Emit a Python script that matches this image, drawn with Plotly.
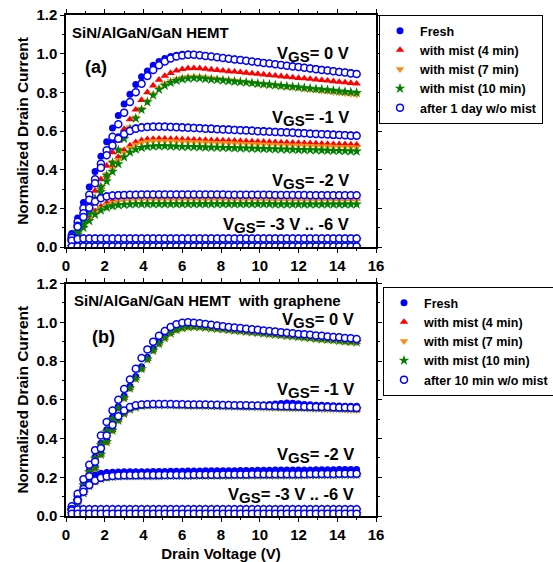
import plotly.graph_objects as go

# Drain voltage sampling (V)
X = [0.3, 0.6, 0.9, 1.2, 1.5, 1.8, 2.1, 2.4, 2.7, 3.0,
     3.3, 3.6, 3.9, 4.2, 4.5, 4.8, 5.1, 5.4, 5.7, 6.0,
     6.3, 6.6, 6.9, 7.2, 7.5, 7.8, 8.1, 8.4, 8.7, 9.0,
     9.3, 9.6, 9.9, 10.2, 10.5, 10.8, 11.1, 11.4, 11.7, 12.0,
     12.3, 12.6, 12.9, 13.2, 13.5, 13.8, 14.1, 14.4, 14.7, 15.0]

SERIES_A = ["Fresh", "with mist (4 min)", "with mist (7 min)", "with mist (10 min)", "after 1 day w/o mist"]
SERIES_B = ["Fresh", "with mist (4 min)", "with mist (7 min)", "with mist (10 min)", "after 10 min w/o mist"]
VGS_VALUES = ["0 V", "-1 V", "-2 V", "-3 V .. -6 V"]

# ---------------- Panel (a) ----------------
A0_FRESH = [0.07, 0.15, 0.23, 0.31, 0.39, 0.47, 0.545, 0.615, 0.68, 0.74,
            0.79, 0.84, 0.88, 0.91, 0.94, 0.96, 0.975, 0.985, 0.992, 0.997,
            0.998, 0.996, 0.993, 0.989, 0.986, 0.982, 0.979, 0.975, 0.972, 0.968,
            0.965, 0.961, 0.958, 0.954, 0.951, 0.947, 0.944, 0.940, 0.937, 0.933,
            0.930, 0.926, 0.923, 0.919, 0.916, 0.912, 0.909, 0.905, 0.902, 0.898]
A0_AFTER = [0.06, 0.13, 0.20, 0.27, 0.35, 0.43, 0.50, 0.57, 0.635, 0.695,
            0.75, 0.80, 0.845, 0.885, 0.915, 0.94, 0.96, 0.975, 0.985, 0.991,
            0.994, 0.994, 0.992, 0.988, 0.985, 0.981, 0.977, 0.974, 0.970, 0.967,
            0.963, 0.959, 0.956, 0.952, 0.949, 0.945, 0.941, 0.938, 0.934, 0.931,
            0.927, 0.923, 0.920, 0.916, 0.913, 0.909, 0.905, 0.902, 0.898, 0.895]
A0_M4 = [0.04, 0.09, 0.15, 0.22, 0.29, 0.35, 0.42, 0.49, 0.55, 0.61,
         0.66, 0.71, 0.76, 0.80, 0.835, 0.865, 0.885, 0.90, 0.912, 0.92,
         0.924, 0.925, 0.924, 0.921, 0.918, 0.915, 0.912, 0.909, 0.907, 0.904,
         0.901, 0.898, 0.895, 0.892, 0.889, 0.886, 0.883, 0.880, 0.877, 0.874,
         0.872, 0.869, 0.866, 0.863, 0.860, 0.857, 0.854, 0.851, 0.848, 0.845]
A0_M7 = [0.035, 0.08, 0.135, 0.195, 0.255, 0.315, 0.375, 0.44, 0.505, 0.565,
         0.62, 0.67, 0.715, 0.755, 0.79, 0.82, 0.842, 0.858, 0.868, 0.876,
         0.88, 0.881, 0.880, 0.877, 0.873, 0.870, 0.866, 0.863, 0.860, 0.856,
         0.853, 0.849, 0.846, 0.842, 0.839, 0.836, 0.832, 0.829, 0.825, 0.822,
         0.819, 0.815, 0.812, 0.808, 0.805, 0.801, 0.798, 0.795, 0.791, 0.788]
A0_M10 = [0.035, 0.08, 0.13, 0.19, 0.25, 0.31, 0.37, 0.435, 0.50, 0.56,
          0.61, 0.665, 0.71, 0.75, 0.785, 0.815, 0.835, 0.85, 0.86, 0.868,
          0.872, 0.874, 0.873, 0.870, 0.867, 0.865, 0.862, 0.859, 0.856, 0.854,
          0.851, 0.848, 0.845, 0.842, 0.840, 0.837, 0.834, 0.831, 0.829, 0.826,
          0.823, 0.820, 0.817, 0.815, 0.812, 0.809, 0.806, 0.803, 0.801, 0.798]

A1_FRESH = [0.055, 0.12, 0.19, 0.265, 0.35, 0.43, 0.49, 0.54, 0.57, 0.593,
            0.607, 0.617, 0.622, 0.625, 0.626, 0.626, 0.626, 0.625, 0.624, 0.622,
            0.621, 0.619, 0.618, 0.616, 0.615, 0.613, 0.612, 0.611, 0.609, 0.608,
            0.606, 0.605, 0.603, 0.602, 0.600, 0.599, 0.597, 0.596, 0.595, 0.593,
            0.592, 0.590, 0.589, 0.587, 0.586, 0.584, 0.583, 0.582, 0.580, 0.579]
A1_AFTER = [0.05, 0.11, 0.175, 0.245, 0.33, 0.41, 0.475, 0.525, 0.56, 0.585,
            0.60, 0.612, 0.618, 0.621, 0.622, 0.622, 0.622, 0.621, 0.620, 0.618,
            0.617, 0.615, 0.614, 0.612, 0.611, 0.609, 0.608, 0.607, 0.605, 0.604,
            0.602, 0.601, 0.599, 0.598, 0.596, 0.595, 0.593, 0.592, 0.591, 0.589,
            0.588, 0.586, 0.585, 0.583, 0.582, 0.580, 0.579, 0.578, 0.576, 0.575]
A1_M4 = [0.035, 0.08, 0.13, 0.19, 0.25, 0.31, 0.37, 0.42, 0.465, 0.50,
         0.525, 0.542, 0.552, 0.557, 0.559, 0.560, 0.560, 0.559, 0.558, 0.557,
         0.556, 0.555, 0.554, 0.553, 0.552, 0.552, 0.551, 0.550, 0.549, 0.548,
         0.547, 0.546, 0.545, 0.544, 0.543, 0.542, 0.541, 0.540, 0.539, 0.538,
         0.537, 0.536, 0.535, 0.534, 0.533, 0.532, 0.531, 0.531, 0.530, 0.529]
A1_M7 = [0.033, 0.078, 0.125, 0.18, 0.24, 0.30, 0.355, 0.405, 0.45, 0.487,
         0.513, 0.53, 0.54, 0.545, 0.547, 0.548, 0.548, 0.547, 0.546, 0.545,
         0.544, 0.543, 0.542, 0.541, 0.540, 0.539, 0.538, 0.537, 0.536, 0.535,
         0.534, 0.533, 0.532, 0.531, 0.530, 0.529, 0.528, 0.527, 0.526, 0.525,
         0.524, 0.523, 0.522, 0.521, 0.520, 0.519, 0.518, 0.517, 0.516, 0.515]
A1_M10 = [0.03, 0.075, 0.12, 0.175, 0.23, 0.285, 0.34, 0.39, 0.43, 0.465,
          0.49, 0.505, 0.514, 0.519, 0.521, 0.522, 0.522, 0.521, 0.520, 0.519,
          0.519, 0.518, 0.517, 0.516, 0.515, 0.515, 0.514, 0.513, 0.512, 0.511,
          0.511, 0.510, 0.509, 0.508, 0.507, 0.506, 0.506, 0.505, 0.504, 0.503,
          0.502, 0.502, 0.501, 0.500, 0.499, 0.498, 0.498, 0.497, 0.496, 0.495]

A2_FRESH = [0.052, 0.112, 0.165, 0.212, 0.242, 0.257, 0.265, 0.269, 0.271, 0.272,
            0.272, 0.273, 0.273, 0.273, 0.273, 0.273, 0.273, 0.273, 0.273, 0.273,
            0.273, 0.273, 0.272, 0.272, 0.272, 0.272, 0.272, 0.272, 0.272, 0.272,
            0.272, 0.271, 0.271, 0.271, 0.271, 0.271, 0.271, 0.271, 0.271, 0.270,
            0.270, 0.270, 0.270, 0.270, 0.270, 0.270, 0.270, 0.269, 0.269, 0.269]
A2_AFTER = [0.048, 0.105, 0.155, 0.203, 0.235, 0.252, 0.261, 0.266, 0.268, 0.269,
            0.270, 0.270, 0.271, 0.271, 0.271, 0.271, 0.271, 0.271, 0.271, 0.271,
            0.271, 0.271, 0.271, 0.271, 0.271, 0.271, 0.271, 0.270, 0.270, 0.270,
            0.270, 0.270, 0.270, 0.270, 0.270, 0.269, 0.269, 0.269, 0.269, 0.269,
            0.269, 0.268, 0.268, 0.268, 0.268, 0.268, 0.268, 0.268, 0.268, 0.268]
A2_M4 = [0.03, 0.07, 0.11, 0.15, 0.185, 0.21, 0.228, 0.24, 0.247, 0.251,
         0.253, 0.254, 0.255, 0.255, 0.255, 0.255, 0.255, 0.255, 0.255, 0.255,
         0.255, 0.254, 0.254, 0.254, 0.254, 0.254, 0.254, 0.253, 0.253, 0.253,
         0.253, 0.253, 0.253, 0.252, 0.252, 0.252, 0.252, 0.252, 0.252, 0.252,
         0.251, 0.251, 0.251, 0.251, 0.251, 0.251, 0.250, 0.250, 0.250, 0.250]
A2_M7 = [0.03, 0.068, 0.105, 0.143, 0.177, 0.201, 0.218, 0.23, 0.237, 0.241,
         0.243, 0.244, 0.245, 0.245, 0.245, 0.245, 0.245, 0.245, 0.245, 0.245,
         0.245, 0.245, 0.245, 0.245, 0.245, 0.245, 0.245, 0.245, 0.244, 0.244,
         0.244, 0.244, 0.244, 0.244, 0.244, 0.244, 0.244, 0.244, 0.244, 0.244,
         0.243, 0.243, 0.243, 0.243, 0.243, 0.243, 0.243, 0.243, 0.243, 0.243]
A2_M10 = [0.028, 0.065, 0.10, 0.135, 0.168, 0.19, 0.204, 0.212, 0.217, 0.219,
          0.221, 0.222, 0.222, 0.222, 0.222, 0.222, 0.222, 0.222, 0.222, 0.222,
          0.222, 0.222, 0.222, 0.222, 0.222, 0.222, 0.222, 0.222, 0.222, 0.222,
          0.222, 0.222, 0.222, 0.222, 0.222, 0.221, 0.221, 0.221, 0.221, 0.221,
          0.221, 0.221, 0.221, 0.221, 0.221, 0.221, 0.221, 0.221, 0.221, 0.221]

A3_FRESH = [0.035, 0.044, 0.046, 0.046, 0.046, 0.046, 0.046, 0.046, 0.046, 0.046,
            0.046, 0.046, 0.046, 0.046, 0.046, 0.046, 0.046, 0.046, 0.046, 0.046,
            0.046, 0.046, 0.046, 0.046, 0.046, 0.046, 0.046, 0.046, 0.046, 0.046,
            0.046, 0.046, 0.046, 0.046, 0.046, 0.046, 0.046, 0.046, 0.046, 0.046,
            0.046, 0.046, 0.046, 0.046, 0.046, 0.046, 0.046, 0.046, 0.046, 0.046]
A3_AFTER = [0.033, 0.042, 0.044, 0.044, 0.044, 0.044, 0.044, 0.044, 0.044, 0.044,
            0.044, 0.044, 0.044, 0.044, 0.044, 0.044, 0.044, 0.044, 0.044, 0.044,
            0.044, 0.044, 0.044, 0.044, 0.044, 0.044, 0.044, 0.044, 0.044, 0.044,
            0.044, 0.044, 0.044, 0.044, 0.044, 0.044, 0.044, 0.044, 0.044, 0.044,
            0.044, 0.044, 0.044, 0.044, 0.044, 0.044, 0.044, 0.044, 0.044, 0.044]
A3_M4 = [0.030, 0.040, 0.043, 0.043, 0.043, 0.043, 0.043, 0.043, 0.043, 0.043,
         0.043, 0.043, 0.043, 0.043, 0.043, 0.043, 0.043, 0.043, 0.043, 0.043,
         0.043, 0.043, 0.043, 0.043, 0.043, 0.043, 0.043, 0.043, 0.043, 0.043,
         0.043, 0.043, 0.043, 0.043, 0.043, 0.043, 0.043, 0.043, 0.043, 0.043,
         0.043, 0.043, 0.043, 0.043, 0.043, 0.043, 0.043, 0.043, 0.043, 0.043]
A3_M7 = [0.028, 0.037, 0.039, 0.039, 0.039, 0.039, 0.039, 0.039, 0.039, 0.039,
         0.039, 0.039, 0.039, 0.039, 0.039, 0.039, 0.039, 0.039, 0.039, 0.039,
         0.039, 0.039, 0.039, 0.039, 0.039, 0.039, 0.039, 0.039, 0.039, 0.039,
         0.039, 0.039, 0.039, 0.039, 0.039, 0.039, 0.039, 0.039, 0.039, 0.039,
         0.039, 0.039, 0.039, 0.039, 0.039, 0.039, 0.039, 0.039, 0.039, 0.039]
A3_M10 = [0.027, 0.035, 0.037, 0.037, 0.037, 0.037, 0.037, 0.037, 0.037, 0.037,
          0.037, 0.037, 0.037, 0.037, 0.037, 0.037, 0.037, 0.037, 0.037, 0.037,
          0.037, 0.037, 0.037, 0.037, 0.037, 0.037, 0.037, 0.037, 0.037, 0.037,
          0.037, 0.037, 0.037, 0.037, 0.037, 0.037, 0.037, 0.037, 0.037, 0.037,
          0.037, 0.037, 0.037, 0.037, 0.037, 0.037, 0.037, 0.037, 0.037, 0.037]

A4_FRESH = [0.004, 0.004, 0.004, 0.004, 0.004, 0.004, 0.004, 0.004, 0.004, 0.004,
            0.004, 0.004, 0.004, 0.004, 0.004, 0.004, 0.004, 0.004, 0.004, 0.004,
            0.004, 0.004, 0.004, 0.004, 0.004, 0.004, 0.004, 0.004, 0.004, 0.004,
            0.004, 0.004, 0.004, 0.004, 0.004, 0.004, 0.004, 0.004, 0.004, 0.004,
            0.004, 0.004, 0.004, 0.004, 0.004, 0.004, 0.004, 0.004, 0.004, 0.004]
A4_AFTER = [0.003, 0.003, 0.003, 0.003, 0.003, 0.003, 0.003, 0.003, 0.003, 0.003,
            0.003, 0.003, 0.003, 0.003, 0.003, 0.003, 0.003, 0.003, 0.003, 0.003,
            0.003, 0.003, 0.003, 0.003, 0.003, 0.003, 0.003, 0.003, 0.003, 0.003,
            0.003, 0.003, 0.003, 0.003, 0.003, 0.003, 0.003, 0.003, 0.003, 0.003,
            0.003, 0.003, 0.003, 0.003, 0.003, 0.003, 0.003, 0.003, 0.003, 0.003]
A4_M4 = [0.003, 0.003, 0.003, 0.003, 0.003, 0.003, 0.003, 0.003, 0.003, 0.003,
         0.003, 0.003, 0.003, 0.003, 0.003, 0.003, 0.003, 0.003, 0.003, 0.003,
         0.003, 0.003, 0.003, 0.003, 0.003, 0.003, 0.003, 0.003, 0.003, 0.003,
         0.003, 0.003, 0.003, 0.003, 0.003, 0.003, 0.003, 0.003, 0.003, 0.003,
         0.003, 0.003, 0.003, 0.003, 0.003, 0.003, 0.003, 0.003, 0.003, 0.003]
A4_M7 = [0.002, 0.002, 0.002, 0.002, 0.002, 0.002, 0.002, 0.002, 0.002, 0.002,
         0.002, 0.002, 0.002, 0.002, 0.002, 0.002, 0.002, 0.002, 0.002, 0.002,
         0.002, 0.002, 0.002, 0.002, 0.002, 0.002, 0.002, 0.002, 0.002, 0.002,
         0.002, 0.002, 0.002, 0.002, 0.002, 0.002, 0.002, 0.002, 0.002, 0.002,
         0.002, 0.002, 0.002, 0.002, 0.002, 0.002, 0.002, 0.002, 0.002, 0.002]
A4_M10 = [0.002, 0.002, 0.002, 0.002, 0.002, 0.002, 0.002, 0.002, 0.002, 0.002,
          0.002, 0.002, 0.002, 0.002, 0.002, 0.002, 0.002, 0.002, 0.002, 0.002,
          0.002, 0.002, 0.002, 0.002, 0.002, 0.002, 0.002, 0.002, 0.002, 0.002,
          0.002, 0.002, 0.002, 0.002, 0.002, 0.002, 0.002, 0.002, 0.002, 0.002,
          0.002, 0.002, 0.002, 0.002, 0.002, 0.002, 0.002, 0.002, 0.002, 0.002]

# ---------------- Panel (b) ----------------
B0_FRESH = [0.045, 0.10, 0.165, 0.235, 0.305, 0.375, 0.445, 0.51, 0.565, 0.62,
            0.67, 0.72, 0.77, 0.82, 0.865, 0.90, 0.93, 0.955, 0.97, 0.98,
            0.985, 0.986, 0.985, 0.982, 0.979, 0.976, 0.972, 0.969, 0.966, 0.963,
            0.960, 0.957, 0.954, 0.951, 0.948, 0.945, 0.942, 0.939, 0.936, 0.933,
            0.930, 0.927, 0.924, 0.921, 0.918, 0.915, 0.912, 0.910, 0.907, 0.905]
B0_AFTER = [0.05, 0.115, 0.19, 0.265, 0.34, 0.415, 0.485, 0.545, 0.60, 0.655,
            0.705, 0.76, 0.815, 0.86, 0.90, 0.93, 0.955, 0.975, 0.99, 0.997,
            1.0, 0.998, 0.995, 0.991, 0.987, 0.983, 0.979, 0.976, 0.973, 0.970,
            0.967, 0.964, 0.961, 0.958, 0.955, 0.952, 0.949, 0.946, 0.943, 0.940,
            0.938, 0.935, 0.932, 0.930, 0.927, 0.924, 0.922, 0.919, 0.917, 0.914]
B0_M4 = [0.043, 0.097, 0.16, 0.228, 0.298, 0.368, 0.437, 0.50, 0.556, 0.61,
         0.66, 0.71, 0.76, 0.81, 0.855, 0.89, 0.92, 0.945, 0.962, 0.972,
         0.977, 0.978, 0.977, 0.974, 0.971, 0.968, 0.965, 0.962, 0.959, 0.956,
         0.953, 0.950, 0.947, 0.944, 0.941, 0.938, 0.935, 0.932, 0.929, 0.926,
         0.923, 0.920, 0.917, 0.914, 0.912, 0.909, 0.906, 0.903, 0.900, 0.898]
B0_M7 = [0.042, 0.095, 0.158, 0.225, 0.295, 0.365, 0.433, 0.497, 0.553, 0.607,
         0.657, 0.707, 0.757, 0.807, 0.852, 0.887, 0.917, 0.942, 0.959, 0.969,
         0.974, 0.975, 0.974, 0.971, 0.968, 0.965, 0.962, 0.959, 0.956, 0.953,
         0.950, 0.947, 0.944, 0.941, 0.938, 0.935, 0.932, 0.929, 0.926, 0.923,
         0.920, 0.917, 0.914, 0.911, 0.908, 0.905, 0.902, 0.900, 0.897, 0.895]
B0_M10 = [0.043, 0.096, 0.159, 0.227, 0.297, 0.367, 0.435, 0.499, 0.555, 0.609,
          0.659, 0.709, 0.759, 0.809, 0.854, 0.889, 0.919, 0.944, 0.961, 0.971,
          0.976, 0.977, 0.976, 0.973, 0.970, 0.967, 0.964, 0.961, 0.958, 0.955,
          0.952, 0.949, 0.946, 0.943, 0.940, 0.937, 0.934, 0.931, 0.928, 0.925,
          0.922, 0.919, 0.916, 0.913, 0.911, 0.908, 0.905, 0.902, 0.900, 0.897]

B1_FRESH = [0.03, 0.075, 0.125, 0.185, 0.255, 0.325, 0.39, 0.45, 0.50, 0.535,
            0.556, 0.567, 0.572, 0.574, 0.575, 0.575, 0.575, 0.575, 0.575, 0.575,
            0.575, 0.575, 0.574, 0.574, 0.574, 0.574, 0.573, 0.573, 0.573, 0.573,
            0.572, 0.572, 0.572, 0.573, 0.575, 0.578, 0.581, 0.583, 0.582, 0.579,
            0.576, 0.574, 0.572, 0.571, 0.570, 0.569, 0.568, 0.567, 0.566, 0.566]
B1_AFTER = [0.035, 0.085, 0.14, 0.205, 0.28, 0.35, 0.415, 0.47, 0.515, 0.545,
            0.563, 0.571, 0.575, 0.577, 0.578, 0.578, 0.578, 0.578, 0.577, 0.577,
            0.576, 0.576, 0.575, 0.575, 0.574, 0.574, 0.573, 0.573, 0.572, 0.571,
            0.571, 0.570, 0.570, 0.569, 0.568, 0.568, 0.567, 0.566, 0.566, 0.565,
            0.564, 0.564, 0.563, 0.562, 0.562, 0.561, 0.560, 0.560, 0.559, 0.558]
B1_M4 = [0.028, 0.07, 0.12, 0.178, 0.247, 0.317, 0.382, 0.442, 0.493, 0.528,
         0.55, 0.562, 0.568, 0.571, 0.572, 0.572, 0.572, 0.571, 0.571, 0.570,
         0.569, 0.569, 0.568, 0.567, 0.567, 0.566, 0.565, 0.565, 0.564, 0.563,
         0.562, 0.562, 0.561, 0.560, 0.559, 0.559, 0.558, 0.557, 0.556, 0.556,
         0.555, 0.554, 0.553, 0.552, 0.552, 0.551, 0.550, 0.549, 0.548, 0.547]
B1_M7 = [0.027, 0.068, 0.118, 0.176, 0.245, 0.315, 0.38, 0.44, 0.491, 0.526,
         0.548, 0.56, 0.566, 0.569, 0.57, 0.57, 0.57, 0.569, 0.569, 0.568,
         0.567, 0.567, 0.566, 0.565, 0.565, 0.564, 0.563, 0.563, 0.562, 0.561,
         0.560, 0.560, 0.559, 0.558, 0.557, 0.557, 0.556, 0.555, 0.554, 0.554,
         0.553, 0.552, 0.551, 0.550, 0.550, 0.549, 0.548, 0.547, 0.546, 0.545]
B1_M10 = [0.028, 0.07, 0.12, 0.178, 0.247, 0.317, 0.382, 0.442, 0.493, 0.528,
          0.55, 0.562, 0.569, 0.572, 0.573, 0.573, 0.573, 0.573, 0.572, 0.572,
          0.571, 0.571, 0.570, 0.570, 0.569, 0.568, 0.568, 0.567, 0.567, 0.566,
          0.565, 0.565, 0.564, 0.564, 0.563, 0.562, 0.562, 0.561, 0.560, 0.560,
          0.559, 0.558, 0.558, 0.557, 0.556, 0.556, 0.555, 0.554, 0.554, 0.553]

B2_FRESH = [0.045, 0.10, 0.155, 0.195, 0.213, 0.221, 0.224, 0.226, 0.227, 0.228,
            0.228, 0.229, 0.229, 0.229, 0.230, 0.230, 0.230, 0.231, 0.231, 0.231,
            0.232, 0.232, 0.232, 0.233, 0.233, 0.233, 0.234, 0.234, 0.234, 0.235,
            0.235, 0.235, 0.236, 0.236, 0.236, 0.237, 0.237, 0.237, 0.238, 0.238,
            0.238, 0.238, 0.239, 0.239, 0.239, 0.239, 0.240, 0.240, 0.240, 0.240]
B2_AFTER = [0.035, 0.08, 0.125, 0.16, 0.183, 0.197, 0.204, 0.207, 0.209, 0.210,
            0.210, 0.210, 0.211, 0.211, 0.211, 0.211, 0.212, 0.212, 0.212, 0.212,
            0.212, 0.213, 0.213, 0.213, 0.213, 0.213, 0.214, 0.214, 0.214, 0.214,
            0.214, 0.215, 0.215, 0.215, 0.215, 0.215, 0.216, 0.216, 0.216, 0.216,
            0.216, 0.217, 0.217, 0.217, 0.217, 0.217, 0.218, 0.218, 0.218, 0.218]
B2_M4 = [0.032, 0.075, 0.118, 0.153, 0.177, 0.19, 0.198, 0.201, 0.203, 0.204,
         0.204, 0.205, 0.205, 0.205, 0.205, 0.205, 0.206, 0.206, 0.206, 0.206,
         0.206, 0.206, 0.207, 0.207, 0.207, 0.207, 0.207, 0.207, 0.208, 0.208,
         0.208, 0.208, 0.208, 0.208, 0.209, 0.209, 0.209, 0.209, 0.209, 0.209,
         0.210, 0.210, 0.210, 0.210, 0.210, 0.210, 0.211, 0.211, 0.211, 0.211]
B2_M7 = [0.031, 0.073, 0.116, 0.151, 0.175, 0.188, 0.196, 0.199, 0.201, 0.202,
         0.202, 0.203, 0.203, 0.203, 0.203, 0.203, 0.204, 0.204, 0.204, 0.204,
         0.204, 0.204, 0.205, 0.205, 0.205, 0.205, 0.205, 0.205, 0.206, 0.206,
         0.206, 0.206, 0.206, 0.206, 0.207, 0.207, 0.207, 0.207, 0.207, 0.207,
         0.208, 0.208, 0.208, 0.208, 0.208, 0.208, 0.209, 0.209, 0.209, 0.209]
B2_M10 = [0.033, 0.077, 0.12, 0.155, 0.179, 0.192, 0.2, 0.203, 0.205, 0.206,
          0.206, 0.207, 0.207, 0.207, 0.207, 0.207, 0.208, 0.208, 0.208, 0.208,
          0.208, 0.208, 0.209, 0.209, 0.209, 0.209, 0.209, 0.209, 0.210, 0.210,
          0.210, 0.210, 0.210, 0.210, 0.211, 0.211, 0.211, 0.211, 0.211, 0.211,
          0.212, 0.212, 0.212, 0.212, 0.212, 0.212, 0.213, 0.213, 0.213, 0.213]

B3_FRESH = [0.030, 0.035, 0.036, 0.036, 0.036, 0.036, 0.036, 0.036, 0.036, 0.036,
            0.036, 0.036, 0.036, 0.036, 0.036, 0.036, 0.036, 0.036, 0.036, 0.036,
            0.036, 0.036, 0.036, 0.036, 0.036, 0.036, 0.036, 0.036, 0.036, 0.036,
            0.036, 0.036, 0.036, 0.036, 0.036, 0.036, 0.036, 0.036, 0.036, 0.036,
            0.036, 0.036, 0.036, 0.036, 0.036, 0.036, 0.036, 0.036, 0.036, 0.036]
B3_AFTER = [0.029, 0.034, 0.035, 0.035, 0.035, 0.035, 0.035, 0.035, 0.035, 0.035,
            0.035, 0.035, 0.035, 0.035, 0.035, 0.035, 0.035, 0.035, 0.035, 0.035,
            0.035, 0.035, 0.035, 0.035, 0.035, 0.035, 0.035, 0.035, 0.035, 0.035,
            0.035, 0.035, 0.035, 0.035, 0.035, 0.035, 0.035, 0.035, 0.035, 0.035,
            0.035, 0.035, 0.035, 0.035, 0.035, 0.035, 0.035, 0.035, 0.035, 0.035]
B3_M4 = [0.027, 0.032, 0.033, 0.033, 0.033, 0.033, 0.033, 0.033, 0.033, 0.033,
         0.033, 0.033, 0.033, 0.033, 0.033, 0.033, 0.033, 0.033, 0.033, 0.033,
         0.033, 0.033, 0.033, 0.033, 0.033, 0.033, 0.033, 0.033, 0.033, 0.033,
         0.033, 0.033, 0.033, 0.033, 0.033, 0.033, 0.033, 0.033, 0.033, 0.033,
         0.033, 0.033, 0.033, 0.033, 0.033, 0.033, 0.033, 0.033, 0.033, 0.033]
B3_M7 = [0.027, 0.031, 0.032, 0.032, 0.032, 0.032, 0.032, 0.032, 0.032, 0.032,
         0.032, 0.032, 0.032, 0.032, 0.032, 0.032, 0.032, 0.032, 0.032, 0.032,
         0.032, 0.032, 0.032, 0.032, 0.032, 0.032, 0.032, 0.032, 0.032, 0.032,
         0.032, 0.032, 0.032, 0.032, 0.032, 0.032, 0.032, 0.032, 0.032, 0.032,
         0.032, 0.032, 0.032, 0.032, 0.032, 0.032, 0.032, 0.032, 0.032, 0.032]
B3_M10 = [0.027, 0.032, 0.033, 0.033, 0.033, 0.033, 0.033, 0.033, 0.033, 0.033,
          0.033, 0.033, 0.033, 0.033, 0.033, 0.033, 0.033, 0.033, 0.033, 0.033,
          0.033, 0.033, 0.033, 0.033, 0.033, 0.033, 0.033, 0.033, 0.033, 0.033,
          0.033, 0.033, 0.033, 0.033, 0.033, 0.033, 0.033, 0.033, 0.033, 0.033,
          0.033, 0.033, 0.033, 0.033, 0.033, 0.033, 0.033, 0.033, 0.033, 0.033]

B4_FRESH = [0.012, 0.012, 0.012, 0.012, 0.012, 0.012, 0.012, 0.012, 0.012, 0.012,
            0.012, 0.012, 0.012, 0.012, 0.012, 0.012, 0.012, 0.012, 0.012, 0.012,
            0.012, 0.012, 0.012, 0.012, 0.012, 0.012, 0.012, 0.012, 0.012, 0.012,
            0.012, 0.012, 0.012, 0.012, 0.012, 0.012, 0.012, 0.012, 0.012, 0.012,
            0.012, 0.012, 0.012, 0.012, 0.012, 0.012, 0.012, 0.012, 0.012, 0.012]
B4_AFTER = [0.011, 0.011, 0.011, 0.011, 0.011, 0.011, 0.011, 0.011, 0.011, 0.011,
            0.011, 0.011, 0.011, 0.011, 0.011, 0.011, 0.011, 0.011, 0.011, 0.011,
            0.011, 0.011, 0.011, 0.011, 0.011, 0.011, 0.011, 0.011, 0.011, 0.011,
            0.011, 0.011, 0.011, 0.011, 0.011, 0.011, 0.011, 0.011, 0.011, 0.011,
            0.011, 0.011, 0.011, 0.011, 0.011, 0.011, 0.011, 0.011, 0.011, 0.011]
B4_M4 = [0.010, 0.010, 0.010, 0.010, 0.010, 0.010, 0.010, 0.010, 0.010, 0.010,
         0.010, 0.010, 0.010, 0.010, 0.010, 0.010, 0.010, 0.010, 0.010, 0.010,
         0.010, 0.010, 0.010, 0.010, 0.010, 0.010, 0.010, 0.010, 0.010, 0.010,
         0.010, 0.010, 0.010, 0.010, 0.010, 0.010, 0.010, 0.010, 0.010, 0.010,
         0.010, 0.010, 0.010, 0.010, 0.010, 0.010, 0.010, 0.010, 0.010, 0.010]
B4_M7 = [0.010, 0.010, 0.010, 0.010, 0.010, 0.010, 0.010, 0.010, 0.010, 0.010,
         0.010, 0.010, 0.010, 0.010, 0.010, 0.010, 0.010, 0.010, 0.010, 0.010,
         0.010, 0.010, 0.010, 0.010, 0.010, 0.010, 0.010, 0.010, 0.010, 0.010,
         0.010, 0.010, 0.010, 0.010, 0.010, 0.010, 0.010, 0.010, 0.010, 0.010,
         0.010, 0.010, 0.010, 0.010, 0.010, 0.010, 0.010, 0.010, 0.010, 0.010]
B4_M10 = [0.010, 0.010, 0.010, 0.010, 0.010, 0.010, 0.010, 0.010, 0.010, 0.010,
          0.010, 0.010, 0.010, 0.010, 0.010, 0.010, 0.010, 0.010, 0.010, 0.010,
          0.010, 0.010, 0.010, 0.010, 0.010, 0.010, 0.010, 0.010, 0.010, 0.010,
          0.010, 0.010, 0.010, 0.010, 0.010, 0.010, 0.010, 0.010, 0.010, 0.010,
          0.010, 0.010, 0.010, 0.010, 0.010, 0.010, 0.010, 0.010, 0.010, 0.010]

PANEL_A = [
    [A0_FRESH, A1_FRESH, A2_FRESH, A3_FRESH, A4_FRESH],
    [A0_M4, A1_M4, A2_M4, A3_M4, A4_M4],
    [A0_M7, A1_M7, A2_M7, A3_M7, A4_M7],
    [A0_M10, A1_M10, A2_M10, A3_M10, A4_M10],
    [A0_AFTER, A1_AFTER, A2_AFTER, A3_AFTER, A4_AFTER],
]
PANEL_B = [
    [B0_FRESH, B1_FRESH, B2_FRESH, B3_FRESH, B4_FRESH],
    [B0_M4, B1_M4, B2_M4, B3_M4, B4_M4],
    [B0_M7, B1_M7, B2_M7, B3_M7, B4_M7],
    [B0_M10, B1_M10, B2_M10, B3_M10, B4_M10],
    [B0_AFTER, B1_AFTER, B2_AFTER, B3_AFTER, B4_AFTER],
]

STYLES = [
    dict(symbol="circle", color="#0000FF", size=7, line=dict(width=0)),
    dict(symbol="triangle-up", color="#FF0000", size=7.5, line=dict(width=0)),
    dict(symbol="triangle-down", color="#FF8C1A", size=7.5, line=dict(width=0)),
    dict(symbol="star", color="#008000", size=8, line=dict(width=0)),
    dict(symbol="circle", color="#FFFFFF", size=7, line=dict(width=1.5, color="#0000FF")),
]

FONT = "Arial, Liberation Sans, sans-serif"

# plot-area geometry (px)
L, R = 66, 376
W = 553
PW = R - L
T, B = 15, 516
H = 562
PH = B - T


def fy(px):
    return (B - px) / PH


fig = go.Figure()


def add_panel(curves, names, xa, ya, legend):
    for i, (group, name) in enumerate(zip(curves, names)):
        xs, ys = [], []
        for c in group:
            xs += X + [None]
            ys += c + [None]
        fig.add_trace(go.Scatter(
            x=xs, y=ys, mode="markers", name=name, xaxis=xa, yaxis=ya,
            legend=legend, marker=STYLES[i], cliponaxis=True,
        ))


add_panel(PANEL_A, SERIES_A, "x", "y", "legend")
add_panel(PANEL_B, SERIES_B, "x2", "y2", "legend2")

axis_common = dict(
    showline=True, linecolor="black", linewidth=1.5, mirror="ticks",
    ticks="outside", ticklen=4, tickwidth=1.3, tickcolor="black",
    showgrid=False, zeroline=False, automargin=False,
    tickfont=dict(family=FONT, size=15, color="black", weight="bold"),
)
xcommon = dict(axis_common, range=[0, 16], tick0=0, dtick=2,
               minor=dict(dtick=1, ticks="outside", ticklen=2.5, tickwidth=1.1, tickcolor="black"))
ycommon = dict(axis_common, range=[0, 1.2], tick0=0, dtick=0.2, tickformat=".1f",
               minor=dict(dtick=0.1, ticks="outside", ticklen=2.5, tickwidth=1.1, tickcolor="black"),
               title=dict(text="<b>Normalized Drain Current</b>",
                          font=dict(family=FONT, size=15.5, color="black"), standoff=4))

fig.update_layout(
    width=W, height=H,
    margin=dict(l=L, r=W - R, t=T, b=H - B, autoexpand=False),
    plot_bgcolor="white", paper_bgcolor="white",
    font=dict(family=FONT, color="black"),
    xaxis=dict(xcommon, anchor="y", domain=[0, 1]),
    yaxis=dict(ycommon, anchor="x", domain=[fy(247), 1.0]),
    xaxis2=dict(xcommon, anchor="y2", domain=[0, 1],
                title=dict(text="<b>Drain Voltage (V)</b>",
                           font=dict(family=FONT, size=15, color="black"), standoff=18)),
    yaxis2=dict(ycommon, anchor="x2", domain=[0, fy(283.5)]),
    legend=dict(x=(379 - L) / PW, y=1.0, xanchor="left", yanchor="top",
                bgcolor="white", bordercolor="black", borderwidth=1,
                font=dict(family=FONT, size=12.5, color="black", weight="bold"),
                itemwidth=30, tracegroupgap=0),
    legend2=dict(x=(383 - L) / PW, y=fy(287), xanchor="left", yanchor="top",
                 bgcolor="white", bordercolor="black", borderwidth=1,
                 font=dict(family=FONT, size=12.5, color="black", weight="bold"),
                 itemwidth=30, tracegroupgap=0),
    showlegend=True,
)

ann = []


def text(xref, yref, x, y, s, size, xanchor):
    ann.append(dict(xref=xref, yref=yref, x=x, y=y, text="<b>" + s + "</b>",
                    showarrow=False, xanchor=xanchor, yanchor="middle",
                    font=dict(family=FONT, size=size, color="black")))


def vgs(v):
    return "V<sub><span style='font-size:15px'>GS</span></sub>= " + v


# Panel (a)
text("x", "y", 0.22, 1.107, "SiN/AlGaN/GaN HEMT", 15, "left")
text("x", "y", 0.88, 0.93, "(a)", 18, "left")
for v, yv in zip(VGS_VALUES, [0.998, 0.667, 0.341, 0.109]):
    text("x", "y", 14.7, yv, vgs(v), 16.5, "right")
# Panel (b)
text("x2", "y2", 0.3, 1.114, "SiN/AlGaN/GaN HEMT  with graphene", 15, "left")
text("x2", "y2", 1.25, 0.923, "(b)", 18, "left")
for v, yv in zip(VGS_VALUES, [1.01, 0.649, 0.313, 0.106]):
    text("x2", "y2", 14.95, yv, vgs(v), 16.5, "right")

fig.update_layout(annotations=ann)

fig.write_html("out.html",
               config={"displayModeBar": False},
               post_script="document.body.style.margin='0';document.body.style.overflow='hidden';")
